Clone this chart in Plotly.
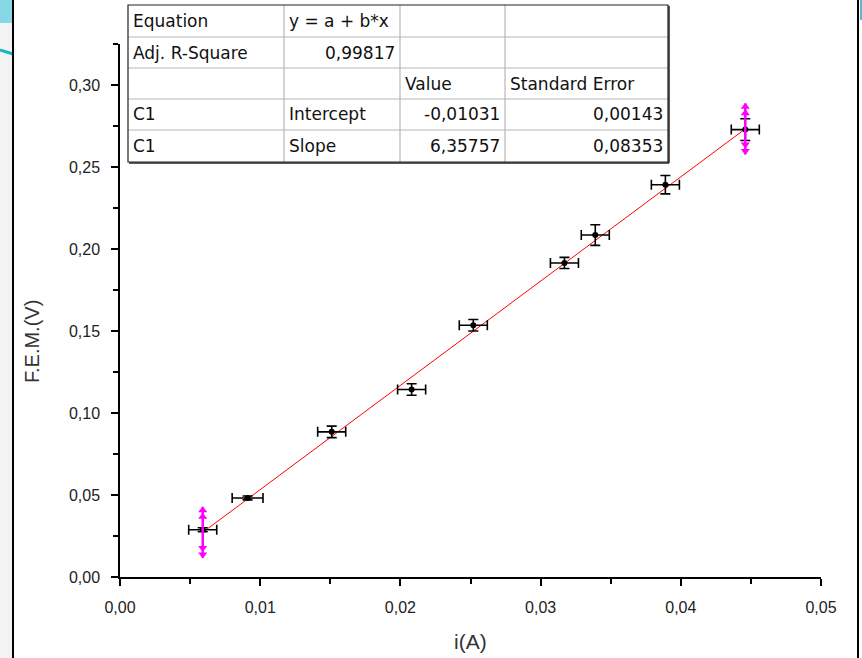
import plotly.graph_objects as go

# ---------------- data ----------------
current_A = [0.0059, 0.0091, 0.0151, 0.0208, 0.0252, 0.0317, 0.0339, 0.0389, 0.0446]
fem_V = [0.0288, 0.0482, 0.0885, 0.1143, 0.1535, 0.1915, 0.2085, 0.2392, 0.2728]
err_current = [0.001, 0.0011, 0.001, 0.001, 0.001, 0.001, 0.001, 0.001, 0.001]
err_fem = [0.0012, 0.0012, 0.0035, 0.0035, 0.0035, 0.0034, 0.0063, 0.0056, 0.0066]

fit_intercept = -0.01031
fit_slope = 6.35757

table_rows = [
    ["Equation", "y = a + b*x", "", ""],
    ["Adj. R-Square", "0,99817", "", ""],
    ["", "", "Value", "Standard Error"],
    ["C1", "Intercept", "-0,01031", "0,00143"],
    ["C1", "Slope", "6,35757", "0,08353"],
]
right_aligned = {(1, 1), (3, 2), (3, 3), (4, 2), (4, 3)}

x_ticks = [0.0, 0.01, 0.02, 0.03, 0.04, 0.05]
y_ticks = [0.0, 0.05, 0.10, 0.15, 0.20, 0.25, 0.30]

# ---------------- layout geometry (pixels) ----------------
W, H = 862, 658
L, R, T, B = 120, 41, 44, 81
PW, PH = W - L - R, H - T - B


def fx(px):
    return (px - L) / PW


def fy(py):
    return (H - B - py) / PH


FONT = "Liberation Sans, Arial, sans-serif"
TFONT = "DejaVu Sans, sans-serif"

fig = go.Figure()

# fitted line
x0, x1 = min(current_A), max(current_A)
fig.add_trace(go.Scatter(
    x=[x0, x1], y=[fit_intercept + fit_slope * x0, fit_intercept + fit_slope * x1],
    mode="lines", line=dict(color="#ff0000", width=1), hoverinfo="skip", showlegend=False))

# data with error bars
fig.add_trace(go.Scatter(
    x=current_A, y=fem_V, mode="markers",
    marker=dict(color="black", size=6, symbol="circle"),
    error_x=dict(type="data", array=err_current, color="black", thickness=1.6, width=5),
    error_y=dict(type="data", array=err_fem, color="black", thickness=1.6, width=5),
    showlegend=False))

# magenta endpoint handles on fit line
half = 0.0155
for xe in (x0, x1):
    ye = fit_intercept + fit_slope * xe
    fig.add_trace(go.Scatter(
        x=[xe, xe], y=[ye - half, ye + half], mode="lines",
        line=dict(color="#ff00ff", width=2.5), hoverinfo="skip", showlegend=False))
    fig.add_trace(go.Scatter(
        x=[xe, xe, xe, xe], y=[ye - half + 0.002, ye - half + 0.006, ye + half - 0.006, ye + half - 0.002],
        mode="markers",
        marker=dict(color="#ff00ff", size=8,
                    symbol=["triangle-down", "triangle-down", "triangle-up", "triangle-up"]),
        hoverinfo="skip", showlegend=False))

shapes = []
annotations = []

# page frame and decoration
shapes.append(dict(type="rect", xref="paper", yref="paper", x0=fx(0), x1=fx(13), y0=fy(H), y1=fy(0),
                   fillcolor="#f3f3f3", line=dict(width=0), layer="below"))
shapes.append(dict(type="rect", xref="paper", yref="paper", x0=fx(0), x1=fx(13), y0=fy(23), y1=fy(0),
                   fillcolor="#86d8e6", line=dict(width=0), layer="below"))
shapes.append(dict(type="line", xref="paper", yref="paper", x0=fx(0), x1=fx(13), y0=fy(50), y1=fy(54),
                   line=dict(color="#1fb5bd", width=3)))
shapes.append(dict(type="line", xref="paper", yref="paper", x0=fx(13), x1=fx(13), y0=fy(H), y1=fy(0),
                   line=dict(color="black", width=2)))
shapes.append(dict(type="line", xref="paper", yref="paper", x0=fx(858), x1=fx(858), y0=fy(H), y1=fy(0),
                   line=dict(color="black", width=2)))
shapes.append(dict(type="rect", xref="paper", yref="paper", x0=fx(860), x1=fx(862), y0=fy(20), y1=fy(0),
                   fillcolor="#5fb8c8", line=dict(width=0)))

# results table
col_x = [128, 284, 400, 505, 668]
row_y = [5, 37, 68, 99, 130, 162]
shapes.append(dict(type="rect", xref="paper", yref="paper", x0=fx(col_x[0]), x1=fx(col_x[-1]),
                   y0=fy(row_y[-1]), y1=fy(row_y[0]), fillcolor="white", line=dict(width=0)))
for cx in col_x[1:-1]:
    shapes.append(dict(type="line", xref="paper", yref="paper", x0=fx(cx), x1=fx(cx),
                       y0=fy(row_y[-1]), y1=fy(row_y[0]), line=dict(color="#b8b8b8", width=1.2)))
for ry in row_y[1:-1]:
    shapes.append(dict(type="line", xref="paper", yref="paper", x0=fx(col_x[0]), x1=fx(col_x[-1]),
                       y0=fy(ry), y1=fy(ry), line=dict(color="#b8b8b8", width=1.2)))
shapes.append(dict(type="rect", xref="paper", yref="paper", x0=fx(col_x[0]), x1=fx(col_x[-1]),
                   y0=fy(row_y[-1]), y1=fy(row_y[0]), line=dict(color="#222", width=1.2)))
shapes.append(dict(type="line", xref="paper", yref="paper", x0=fx(col_x[-1] + 1), x1=fx(col_x[-1] + 1),
                   y0=fy(row_y[-1] + 1), y1=fy(row_y[0] + 1), line=dict(color="#222", width=1.5)))
shapes.append(dict(type="line", xref="paper", yref="paper", x0=fx(col_x[0] + 1), x1=fx(col_x[-1] + 1),
                   y0=fy(row_y[-1] + 1), y1=fy(row_y[-1] + 1), line=dict(color="#222", width=1.5)))

for r, row in enumerate(table_rows):
    yc = (row_y[r] + row_y[r + 1]) / 2
    for c, txt in enumerate(row):
        if not txt:
            continue
        if (r, c) in right_aligned:
            annotations.append(dict(x=fx(col_x[c + 1] - 3), y=fy(yc), xref="paper", yref="paper",
                                    text=txt, showarrow=False, xanchor="right", yanchor="middle",
                                    font=dict(family=TFONT, size=17, color="#111")))
        else:
            annotations.append(dict(x=fx(col_x[c] + 3), y=fy(yc), xref="paper", yref="paper",
                                    text=txt, showarrow=False, xanchor="left", yanchor="middle",
                                    font=dict(family=TFONT, size=17, color="#111")))

# axis titles
annotations.append(dict(x=fx(32), y=fy(342), xref="paper", yref="paper", text="F.E.M.(V)",
                        textangle=-90, showarrow=False, xanchor="center", yanchor="middle",
                        font=dict(family=FONT, size=20, color="#333")))
annotations.append(dict(x=fx(470), y=fy(641), xref="paper", yref="paper", text="i(A)",
                        showarrow=False, xanchor="center", yanchor="middle",
                        font=dict(family=FONT, size=21, color="#333")))

axis_common = dict(showline=True, linecolor="black", linewidth=1.5, ticks="outside",
                   ticklen=7, tickwidth=1.5, tickcolor="black", showgrid=False, zeroline=False,
                   tickformat=".2f", tickfont=dict(family=FONT, size=16, color="#222"),
                   mirror=False)

fig.update_layout(
    width=W, height=H,
    margin=dict(l=L, r=R, t=T, b=B, autoexpand=False),
    paper_bgcolor="white", plot_bgcolor="white",
    separators=", ",
    xaxis=dict(range=[0, 0.05], tickvals=x_ticks, ticklabelstandoff=8,
               minor=dict(ticks="outside", dtick=0.005, ticklen=5, tickwidth=1.5, tickcolor="black"),
               **axis_common),
    yaxis=dict(range=[0, 0.325], tickvals=y_ticks, ticklabelstandoff=8,
               minor=dict(ticks="outside", dtick=0.025, ticklen=5, tickwidth=1.5, tickcolor="black"),
               **axis_common),
    shapes=shapes,
    annotations=annotations,
    showlegend=False,
)

fig.write_html("out.html", config={"displayModeBar": False},
               post_script="document.body.style.margin='0';document.body.style.overflow='hidden';")
